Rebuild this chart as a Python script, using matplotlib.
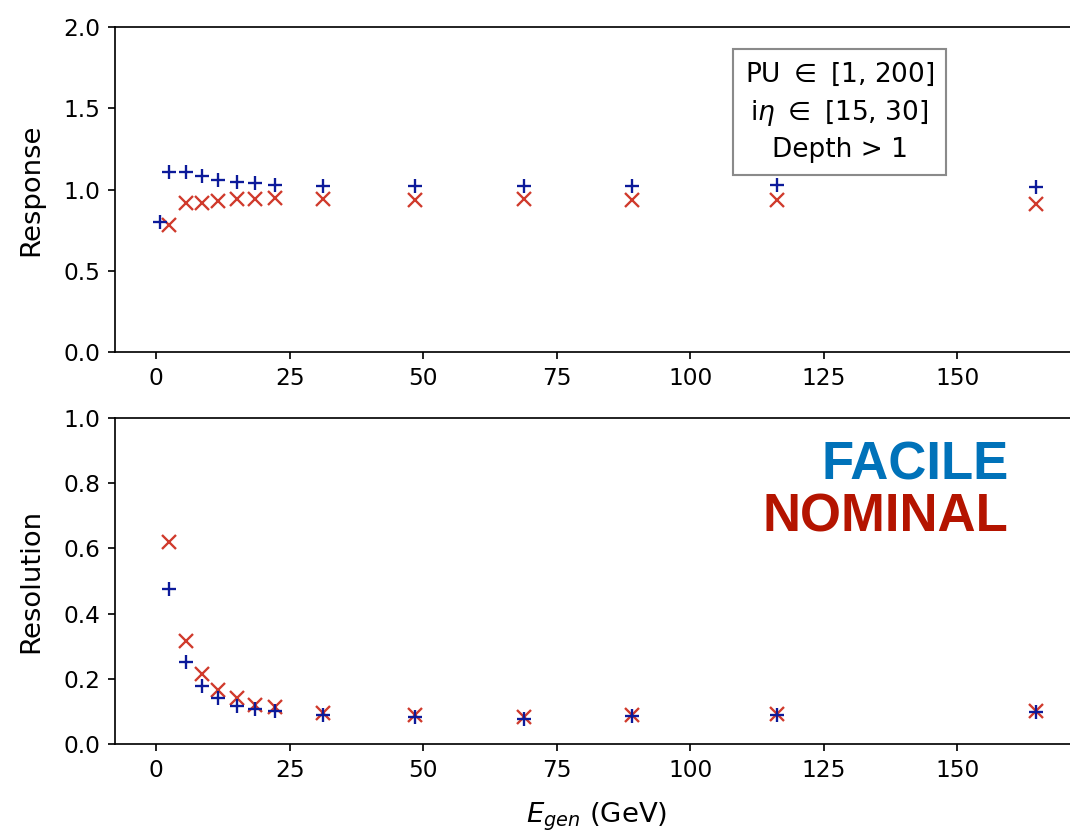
import matplotlib
matplotlib.use("Agg")
import matplotlib.pyplot as plt

# energia generata (GeV) per ogni bin
e_gen = [2.5, 5.6, 8.5, 11.6, 15.2, 18.5, 22.2, 31.3, 48.5, 68.8, 89.1, 116.3, 164.8]
e_gen_facile_resp = [0.8] + e_gen

# risposta
resp_facile = [0.80, 1.11, 1.11, 1.083, 1.058, 1.048, 1.038, 1.028, 1.02, 1.02, 1.02, 1.02, 1.03, 1.015]
resp_nominal = [0.78, 0.915, 0.919, 0.931, 0.94, 0.942, 0.95, 0.943, 0.937, 0.943, 0.937, 0.935, 0.912]

# risoluzione
reso_facile = [0.475, 0.25, 0.179, 0.142, 0.117, 0.107, 0.101, 0.089, 0.084, 0.078, 0.085, 0.089, 0.099]
reso_nominal = [0.62, 0.317, 0.215, 0.166, 0.140, 0.120, 0.114, 0.094, 0.088, 0.082, 0.088, 0.091, 0.101]

blue = "#0c1a9a"
red = "#d03a2c"

DPI = 152
plt.rcParams["xtick.labelsize"] = 11
plt.rcParams["ytick.labelsize"] = 11
plt.rcParams["axes.labelsize"] = 13
plt.rcParams["axes.labelpad"] = 9

fig = plt.figure(figsize=(1070 / DPI, 831 / DPI), dpi=DPI)
ax1 = fig.add_axes([0.1075, 0.5764, 0.9009, 0.3911])
ax2 = fig.add_axes([0.1075, 0.1047, 0.9009, 0.3923])

# pannello superiore: risposta
ax1.plot(e_gen, resp_nominal, "x", color=red, ms=6.5, mew=1.1)
ax1.plot(e_gen_facile_resp, resp_facile, "+", color=blue, ms=6.5, mew=1.1)
ax1.set_ylim(0, 2.0)
ax1.set_xlim(-7.7, 172.8)
ax1.set_ylabel("Response")
ax1.text(0.7516, 0.738, "PU $\\in$ [1, 200]\ni$\\eta$ $\\in$ [15, 30]\nDepth > 1",
         transform=ax1.transAxes, ha="center", va="center", fontsize=12.5, linespacing=1.45,
         bbox=dict(boxstyle="square,pad=0.45", facecolor="white", edgecolor="#8a8a8a"))

# pannello inferiore: risoluzione
ax2.plot(e_gen, reso_nominal, "x", color=red, ms=6.5, mew=1.1)
ax2.plot(e_gen, reso_facile, "+", color=blue, ms=6.5, mew=1.1)
ax2.set_ylim(0, 1.0)
ax2.set_xlim(-7.7, 172.8)
ax2.set_ylabel("Resolution")
ax2.set_xlabel("$E_{gen}$ (GeV)")

# etichette
fig.text(1009 / 1070, 1 - 479 / 831, "FACILE", color="#0072b9", fontsize=25,
         fontweight="bold", family="Liberation Sans", ha="right", va="baseline")
fig.text(1008 / 1070, 1 - 531 / 831, "NOMINAL", color="#b41400", fontsize=25,
         fontweight="bold", family="Liberation Sans", ha="right", va="baseline")

fig.savefig("out.png", dpi=DPI)
